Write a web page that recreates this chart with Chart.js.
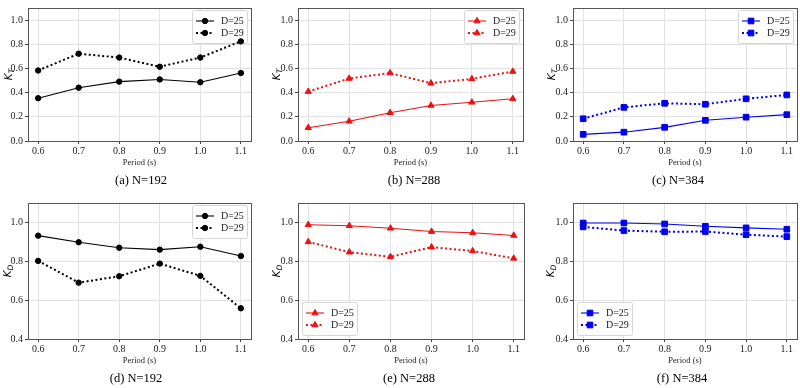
<!DOCTYPE html>
<html>
<head>
<meta charset="utf-8">
<script src="https://cdn.jsdelivr.net/npm/chart.js@4.4.1/dist/chart.umd.min.js"></script>
<style>
    body { margin: 0; background: #fff; }
    #wrap { position: relative; width: 800px; height: 388px; overflow: hidden; }
    #wrap canvas { position: absolute; }
    .cap {
        position: absolute;
        font-family: 'Liberation Serif', serif;
        font-size: 12.5px;
        color: #000;
        white-space: nowrap;
        transform: translate(-50%, -50%);
    }
</style>
</head>
<body>
<div id="wrap"></div>
<script>
// periodos (s) y etiquetas de ejes
const periodos = [0.6, 0.7, 0.8, 0.9, 1.0, 1.1];
const ticksX = [0.6, 0.7, 0.8, 0.9, 1.0, 1.1];
const ticksKT = [0.0, 0.2, 0.4, 0.6, 0.8, 1.0];
const ticksKD = [0.4, 0.6, 0.8, 1.0];
const leyenda = ['D=25', 'D=29'];

// K_T (transmision)
const kt192_d25 = [0.354, 0.441, 0.491, 0.509, 0.486, 0.562];
const kt192_d29 = [0.583, 0.722, 0.690, 0.614, 0.690, 0.824];
const kt288_d25 = [0.110, 0.163, 0.234, 0.294, 0.320, 0.349];
const kt288_d29 = [0.409, 0.517, 0.562, 0.478, 0.514, 0.575];
const kt384_d25 = [0.055, 0.073, 0.113, 0.171, 0.197, 0.218];
const kt384_d29 = [0.184, 0.278, 0.312, 0.304, 0.349, 0.381];

// K_D (disipacion)
const kd192_d25 = [0.932, 0.898, 0.870, 0.860, 0.875, 0.827];
const kd192_d29 = [0.802, 0.690, 0.723, 0.788, 0.725, 0.558];
const kd288_d25 = [0.988, 0.983, 0.970, 0.953, 0.947, 0.933];
const kd288_d29 = [0.900, 0.847, 0.823, 0.873, 0.853, 0.815];
const kd384_d25 = [0.997, 0.997, 0.992, 0.980, 0.972, 0.965];
const kd384_d29 = [0.977, 0.958, 0.952, 0.953, 0.937, 0.927];

const titulos = ['(a) N=192', '(b) N=288', '(c) N=384', '(d) N=192', '(e) N=288', '(f) N=384'];

Chart.defaults.font.family = "'Liberation Serif', serif";
Chart.defaults.color = '#222';

let paneles = [
    { cap: titulos[0], sub: 'T', d25: kt192_d25, d29: kt192_d29, color: '#000000', punto: 'circle', radio: 2.7,
      box: [0, 0, 265, 195], area: [28, 1, 251, 141], yMin: 0, yMax: 1.1, yTicks: ticksKT, ley: 'tr', labX: 9, capX: 141, capY: 180 },
    { cap: titulos[1], sub: 'T', d25: kt288_d25, d29: kt288_d29, color: '#ee1111', punto: 'triangle', radio: 3.6,
      box: [265, 0, 265, 195], area: [298, 1, 523, 141], yMin: 0, yMax: 1.1, yTicks: ticksKT, ley: 'tr', labX: 277, capX: 414, capY: 180 },
    { cap: titulos[2], sub: 'T', d25: kt384_d25, d29: kt384_d29, color: '#0000ee', punto: 'rect', radio: 4,
      box: [530, 0, 270, 195], area: [573, 1, 797, 141], yMin: 0, yMax: 1.1, yTicks: ticksKT, ley: 'tr', labX: 552, capX: 678, capY: 180 },
    { cap: titulos[3], sub: 'D', d25: kd192_d25, d29: kd192_d29, color: '#000000', punto: 'circle', radio: 2.7,
      box: [0, 195, 265, 193], area: [28, 199, 251, 339], yMin: 0.4, yMax: 1.1, yTicks: ticksKD, ley: 'tr', labX: 8, capX: 136, capY: 378 },
    { cap: titulos[4], sub: 'D', d25: kd288_d25, d29: kd288_d29, color: '#ee1111', punto: 'triangle', radio: 3.6,
      box: [265, 195, 265, 193], area: [298, 199, 524, 339], yMin: 0.4, yMax: 1.1, yTicks: ticksKD, ley: 'bl', labX: 277, capX: 409, capY: 378 },
    { cap: titulos[5], sub: 'D', d25: kd384_d25, d29: kd384_d29, color: '#0000ee', punto: 'rect', radio: 4,
      box: [530, 195, 270, 193], area: [573, 199, 797, 339], yMin: 0.4, yMax: 1.1, yTicks: ticksKD, ley: 'bl', labX: 551, capX: 682, capY: 378 }
];

// marco superior/derecho, etiqueta K y leyenda estilo matplotlib
const extras = {
    id: 'extras',
    beforeDatasetsDraw(chart, args, opts) {
        // leyenda (antes de las series para que los puntos queden visibles)
        let ctx = chart.ctx;
        let a = chart.chartArea;
        let w = 55, h = 33;
        let bx = opts.ley === 'tr' ? a.right - 4 - w : a.left + 4;
        let by = opts.ley === 'tr' ? a.top + 2 : a.bottom - 4 - h;
        ctx.save();
        ctx.fillStyle = 'rgba(255,255,255,0.85)';
        ctx.strokeStyle = '#d6d6d6';
        ctx.lineWidth = 1;
        ctx.beginPath();
        ctx.roundRect(bx + 0.5, by + 0.5, w, h, 2);
        ctx.fill();
        ctx.stroke();
        chart.data.datasets.forEach((ds, i) => {
            let yy = by + 11 + i * 12;
            ctx.strokeStyle = ds.borderColor;
            ctx.lineWidth = ds.borderWidth;
            ctx.setLineDash(ds.borderDash || []);
            ctx.beginPath();
            ctx.moveTo(bx + 4, yy);
            ctx.lineTo(bx + 22, yy);
            ctx.stroke();
            ctx.setLineDash([]);
            ctx.fillStyle = ds.borderColor;
            ctx.lineWidth = 1;
            Chart.helpers.drawPoint(ctx, { pointStyle: ds.pointStyle, radius: ds.pointRadius, rotation: 0, borderWidth: 1 }, bx + 13, yy);
            ctx.fillStyle = '#222';
            ctx.font = "10px 'Liberation Serif'";
            ctx.textAlign = 'left';
            ctx.textBaseline = 'middle';
            ctx.fillText(ds.label, bx + 29, yy + 0.5);
        });
        ctx.restore();
    },
    afterDraw(chart, args, opts) {
        let ctx = chart.ctx;
        let a = chart.chartArea;
        ctx.save();
        ctx.strokeStyle = '#555';
        ctx.lineWidth = 1;
        ctx.strokeRect(a.left + 0.5, a.top + 0.5, a.right - a.left, a.bottom - a.top);

        // etiqueta del eje y: K con subindice
        ctx.translate(opts.labX, (a.top + a.bottom) / 2);
        ctx.rotate(-Math.PI / 2);
        ctx.fillStyle = '#000';
        ctx.textBaseline = 'middle';
        ctx.font = "italic 10.5px 'DejaVu Sans'";
        let wK = ctx.measureText('K').width;
        ctx.font = "italic 7.5px 'DejaVu Sans'";
        let wS = ctx.measureText(opts.sub).width;
        let x0 = -(wK + wS) / 2;
        ctx.font = "italic 10.5px 'DejaVu Sans'";
        ctx.textAlign = 'left';
        ctx.fillText('K', x0, 0);
        ctx.font = "italic 7.5px 'DejaVu Sans'";
        ctx.fillText(opts.sub, x0 + wK, 3);
        ctx.restore();
    }
};

let wrap = document.getElementById('wrap');

function crearPanel(p) {
    let [cx, cy, cw, ch] = p.box;
    let [al, at, ar, ab] = p.area;
    let canvas = document.createElement('canvas');
    canvas.width = cw;
    canvas.height = ch;
    canvas.style.left = cx + 'px';
    canvas.style.top = cy + 'px';
    wrap.appendChild(canvas);

    let cap = document.createElement('div');
    cap.className = 'cap';
    cap.textContent = p.cap;
    cap.style.left = p.capX + 'px';
    cap.style.top = p.capY + 'px';
    wrap.appendChild(cap);

    let serie = (vals, i) => ({
        label: leyenda[i],
        data: periodos.map((x, k) => ({ x: x, y: vals[k] })),
        borderColor: p.color,
        backgroundColor: p.color,
        pointBackgroundColor: p.color,
        pointBorderColor: p.color,
        borderWidth: i === 0 ? 1.1 : 2,
        borderDash: i === 0 ? [] : [2, 2.5],
        pointStyle: p.punto,
        pointRadius: p.radio,
        pointBorderWidth: 1,
        tension: 0,
        fill: false
    });

    let config = {
        type: 'line',
        data: { datasets: [serie(p.d25, 0), serie(p.d29, 1)] },
        options: {
            responsive: false,
            animation: false,
            events: [],
            layout: {
                autoPadding: false,
                padding: { left: 0, top: at - cy, right: cx + cw - ar, bottom: 0 }
            },
            plugins: {
                legend: { display: false },
                tooltip: { enabled: false },
                extras: { labX: p.labX - cx, sub: p.sub, ley: p.ley }
            },
            scales: {
                x: {
                    type: 'linear',
                    bounds: 'data',
                    min: 0.575,
                    max: 1.125,
                    afterBuildTicks: s => { s.ticks = ticksX.map(v => ({ value: v })); },
                    afterFit: s => { s.height = cy + ch - ab; },
                    grid: { color: '#e2e2e2', tickColor: '#444', tickLength: 3 },
                    border: { color: '#555' },
                    ticks: {
                        font: { size: 10 },
                        padding: 1,
                        maxRotation: 0,
                        autoSkip: false,
                        callback: v => Number(v).toFixed(1)
                    },
                    title: {
                        display: true,
                        text: 'Period (s)',
                        color: '#222',
                        font: { size: 8.5 },
                        padding: { top: 0, bottom: cy === 0 ? 27 : 22 }
                    }
                },
                y: {
                    bounds: 'data',
                    min: p.yMin,
                    max: p.yMax,
                    afterBuildTicks: s => { s.ticks = p.yTicks.map(v => ({ value: v })); },
                    afterFit: s => { s.width = al - cx; },
                    grid: { color: '#e2e2e2', tickColor: '#444', tickLength: 3 },
                    border: { color: '#555' },
                    ticks: {
                        font: { size: 10 },
                        padding: 2,
                        autoSkip: false,
                        callback: v => Number(v).toFixed(1)
                    }
                }
            }
        },
        plugins: [extras]
    };
    new Chart(canvas.getContext('2d'), config);
}

paneles.forEach(crearPanel);
</script>
</body>
</html>
